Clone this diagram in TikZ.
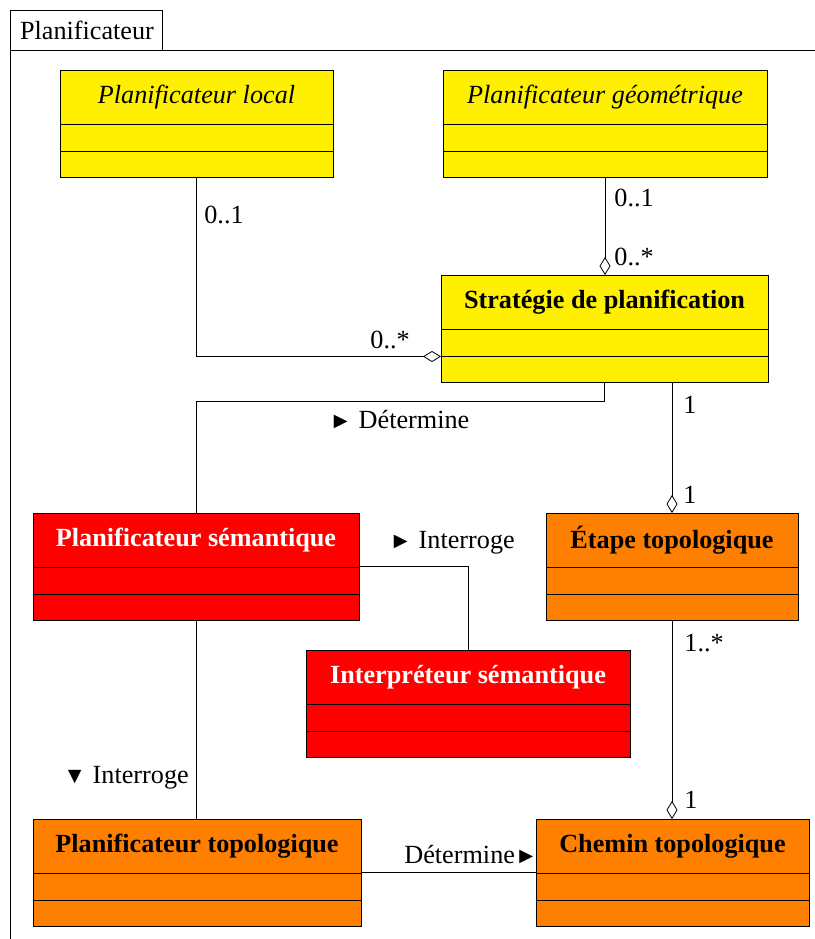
\documentclass[tikz,border=0pt]{standalone}
\usepackage{fontspec}
\setmainfont{Liberation Serif}
\usetikzlibrary{arrows.meta}
\definecolor{umlyellow}{RGB}{255,240,0}
\definecolor{umlorange}{RGB}{255,128,0}
\definecolor{umlred}{RGB}{255,0,0}
\tikzset{classbox/.style={draw, inner sep=0pt, outer sep=0pt, minimum height=53.5pt, anchor=north west},
 aggr/.style={-{Diamond[open,length=9pt,width=5.5pt]}},
 role/.style={anchor=west, inner sep=0pt},
 }
% name, north west corner, width (px), fill, text colour, title
\newcommand{\umlclass}[6]{%
  \node[classbox, fill=#4, minimum width=#3*0.5pt] (#1) at #2 {};
  \node[text=#5] (#1-title) at ([yshift=-13.5pt]#1.north) {#6};
  \draw ([yshift=-27pt]#1.north west) -- ([yshift=-27pt]#1.north east);
  \draw ([yshift=-40.5pt]#1.north west) -- ([yshift=-40.5pt]#1.north east);
}
\newcommand{\tri}[1]{{\fontsize{11.5}{11.5}\selectfont #1}}

\begin{document}
\begin{tikzpicture}[x=0.5pt, y=-0.5pt, font=\fontsize{13.1}{16}\selectfont]
        \useasboundingbox (0,0) rectangle (815,939);
        % package frame
        \draw (10,939) -- (10,10) -- (162,10) -- (162,50);
        \draw (10,50) -- (815,50);
        \node (pkg) at (87,30) {Planificateur};

        \umlclass{local}{(60,70)}{273}{umlyellow}{black}{\itshape Planificateur local}
        \umlclass{geo}{(443,70)}{324}{umlyellow}{black}{\itshape Planificateur géométrique}
        \umlclass{strat}{(441,275)}{327}{umlyellow}{black}{\bfseries Stratégie de planification}
        \umlclass{sem}{(33,513)}{326}{umlred}{white}{\bfseries Planificateur sémantique}
        \umlclass{etape}{(546,513)}{252}{umlorange}{black}{\bfseries Étape topologique}
        \umlclass{interp}{(306,650)}{324}{umlred}{white}{\bfseries Interpréteur sémantique}
        \umlclass{topo}{(33,819)}{328}{umlorange}{black}{\bfseries Planificateur topologique}
        \umlclass{chemin}{(536,819)}{273}{umlorange}{black}{\bfseries Chemin topologique}

        \draw[aggr] (local.south) |- ([yshift=-14pt]strat.west);
        \node[role] (m1) at (204,215) {0..1};
        \node[role] (m2) at (370,340) {0..*};

        \draw[aggr] (geo.south) -- (geo.south |- strat.north);
        \node[role] (m3) at (614,198) {0..1};
        \node[role] (m4) at (614,257) {0..*};

        \draw (strat.south) -- ++(0,19) -| (sem.north);
        \node[role] (l1) at (329,420) {\tri{►} Détermine};

        \draw[aggr] (strat.south -| etape.north) -- (etape.north);
        \node[role] (m5) at (683,405) {1};
        \node[role] (m6) at (683,495) {1};

        \draw (sem.east) -| (interp.north);
        \node[role] (l2) at (389,543) {\tri{►} Interroge};

        \draw (sem.south) -- (sem.south |- topo.north);
        \node[role] (l3) at (63,778) {\tri{▼} Interroge};

        \draw[aggr] (etape.south) -- (etape.south |- chemin.north);
        \node[role] (m7) at (684,643) {1..*};
        \node[role] (m8) at (684,800) {1};

        \draw (topo.east) -- (chemin.west);
        \node[role] (l4) at (404,855) {Détermine\tri{►}};
    \end{tikzpicture}
\end{document}
